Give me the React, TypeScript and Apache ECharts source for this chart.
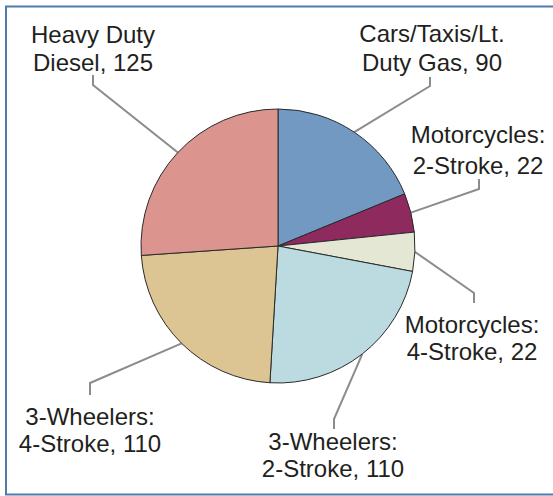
import React, { useEffect, useRef } from "react";
import * as echarts from "echarts";

const categories = [
  "Cars/Taxis/Lt.\nDuty Gas",
  "Motorcycles:\n2-Stroke",
  "Motorcycles:\n4-Stroke",
  "3-Wheelers:\n2-Stroke",
  "3-Wheelers:\n4-Stroke",
  "Heavy Duty\nDiesel",
];
const values = [90, 22, 22, 110, 110, 125];
const colors = ["#7199c1", "#8e2a5e", "#e5e7d5", "#bbdbe0", "#dcc592", "#dc958e"];

// label layout: center x, top y of text block, line height, elbow and end of leader
const labelLayouts = [
  { x: 432, y: 19, lh: 29, elbow: [430, 86], end: [430, 77] },
  { x: 478, y: 119, lh: 31, elbow: [479, 189], end: [479, 179] },
  { x: 472, y: 311, lh: 27, elbow: [474, 293], end: [474, 303] },
  { x: 333, y: 428, lh: 27, elbow: [334, 419], end: [334, 429] },
  { x: 90, y: 403, lh: 27, elbow: [90, 383], end: [90, 395] },
  { x: 93, y: 20, lh: 28, elbow: [93, 85], end: [93, 75] },
];

const CX = 278;
const CY = 246;
const R = 137;

export default function App() {
  const ref = useRef<HTMLDivElement>(null);
  useEffect(() => {
    if (!ref.current) return;
    const chart = echarts.init(ref.current, null, { renderer: "svg" });
    const total = values.reduce((a, b) => a + b, 0);
    const mids: number[][] = [];
    let acc = 0;
    values.forEach((v) => {
      const mid = ((acc + v / 2) / total) * Math.PI * 2;
      mids.push([CX + R * Math.sin(mid), CY - R * Math.cos(mid)]);
      acc += v;
    });
    chart.setOption({
      animation: false,
      backgroundColor: "#ffffff",
      graphic: [
        {
          type: "rect",
          shape: { x: 6, y: 6.5, width: 600, height: 488 },
          style: { fill: "none", stroke: "#4d7cad", lineWidth: 2 },
          z: 100,
        },
      ],
      series: [
        {
          type: "pie",
          center: [CX, CY],
          radius: [0, R],
          startAngle: 90,
          clockwise: true,
          avoidLabelOverlap: false,
          itemStyle: { borderColor: "#2a2a2a", borderWidth: 1 },
          label: {
            show: true,
            position: "outside",
            formatter: (p: any) => `${p.name}, ${p.value}`,
            fontFamily: "Liberation Sans, Arial, sans-serif",
            fontSize: 24,
            color: "#231f20",
            align: "center",
          },
          labelLine: {
            show: true,
            length: 10,
            length2: 10,
            lineStyle: { color: "#8c8c8c", width: 2 },
          },
          labelLayout: (params: any) => {
            const i = params.dataIndex;
            const L = labelLayouts[i];
            const start =
              params.labelLinePoints && params.labelLinePoints[0]
                ? params.labelLinePoints[0]
                : mids[i];
            return {
              x: L.x,
              y: L.y,
              align: "center",
              verticalAlign: "top",
              labelLinePoints: [start, L.elbow, L.end],
            };
          },
          data: categories.map((name, i) => ({
            name,
            value: values[i],
            itemStyle: { color: colors[i] },
            label: { lineHeight: labelLayouts[i].lh },
          })),
          emphasis: { disabled: true },
        },
      ],
    });
    return () => chart.dispose();
  }, []);
  return (
    <div
      ref={ref}
      style={{ position: "fixed", left: 0, top: 0, width: 553, height: 496 }}
    />
  );
}
